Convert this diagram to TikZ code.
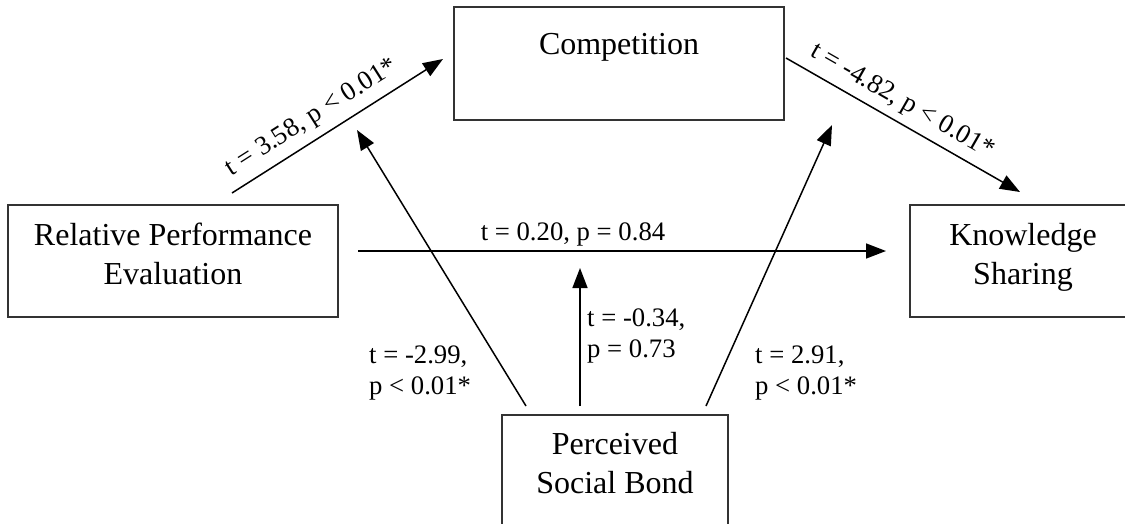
\documentclass[tikz,border=0pt]{standalone}
\usepackage{fontspec}
\setmainfont{Liberation Serif}
\usetikzlibrary{arrows.meta}
\begin{document}
\begin{tikzpicture}[x=1pt,y=-1pt,
  box/.style={draw=black!80, line width=1.8pt, rectangle, inner sep=0pt},
  boxtext/.style={font=\fontsize{32}{39}\selectfont, align=center, inner sep=0pt, anchor=base},
  lab/.style={font=\fontsize{26.7}{30.5}\selectfont, align=left, inner sep=0pt},
  arr/.style={line width=1.5pt, -{Triangle[length=20pt,width=15pt]}}]
\useasboundingbox (0,0) rectangle (1125,523);
\clip (0,0) rectangle (1125,523);
% boxes
\node[box, minimum width=330pt, minimum height=113pt] (comp) at (619,63.5) {};
\node[box, minimum width=330pt, minimum height=112pt] (rpe) at (173,261) {};
\node[box, minimum width=226pt, minimum height=112pt] (ks) at (1023,261) {};
\node[box, minimum width=226pt, minimum height=112pt] (psb) at (615,471) {};
% box texts (anchor base = baseline of last line)
\node[boxtext] (compT) at (619,54) {Competition};
\node[boxtext] (rpeT) at (173,284) {Relative Performance\\Evaluation};
\node[boxtext] (ksT) at (1023,284) {Knowledge\\Sharing};
\node[boxtext] (psbT) at (615,493) {Perceived\\Social Bond};
% connector end points
\coordinate (s1) at (232,193); \coordinate (e1) at (443,59);
\coordinate (s2) at (786,58);  \coordinate (e2) at (1020,192);
\coordinate (s3) at (358,251); \coordinate (e3) at (886,251);
\coordinate (s4) at (526,406); \coordinate (e4) at (357,130);
\coordinate (s5) at (580,406); \coordinate (e5) at (580,268);
\coordinate (s6) at (706,406); \coordinate (e6) at (832,125);
% connectors
\draw[arr] (s1) -- (e1);
\draw[arr] (s2) -- (e2);
\draw[arr] (s3) -- (e3);
\draw[arr] (s4) -- (e4);
\draw[arr] (s5) -- (e5);
\draw[arr] (s6) -- (e6);
% labels
\node[lab, rotate=32.4] (l1) at (312,118) {t = 3.58, p < 0.01*};
\node[lab, rotate=-29.8] (l2) at (902,102) {t = -4.82, p < 0.01*};
\node[lab, anchor=base] (l3) at (573,240) {t = 0.20, p = 0.84};
\node[lab, anchor=base west] (l4) at (369,394) {t = -2.99,\\p < 0.01*};
\node[lab, anchor=base west] (l5) at (587,357) {t = -0.34,\\p = 0.73};
\node[lab, anchor=base west] (l6) at (755,394) {t = 2.91,\\p < 0.01*};
\end{tikzpicture}
\end{document}
